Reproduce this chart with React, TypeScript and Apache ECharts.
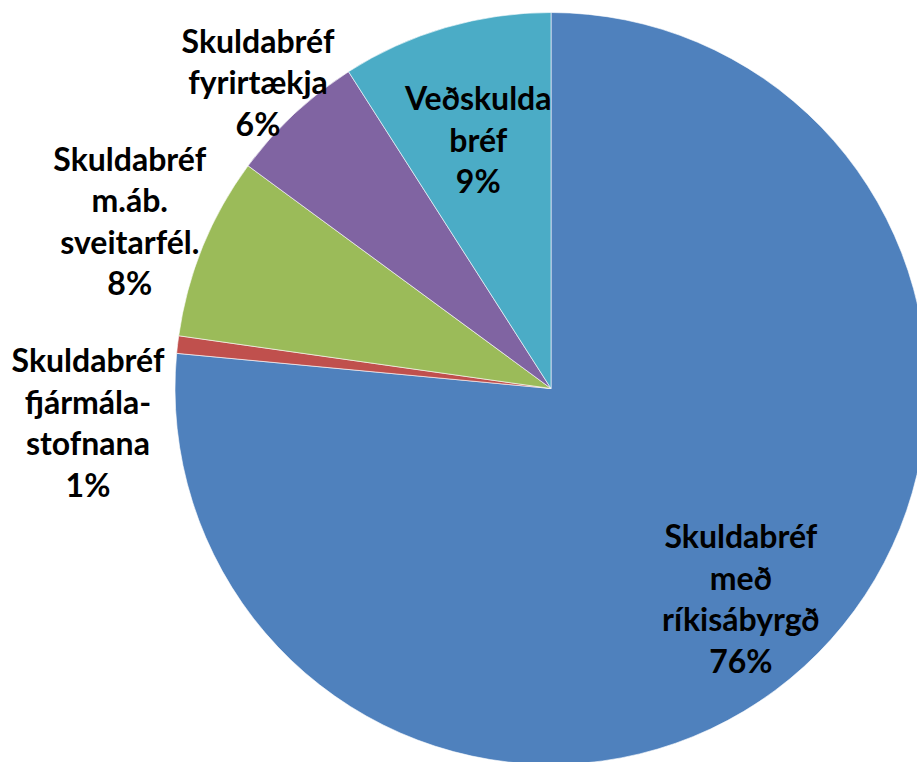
import React, { useEffect, useRef } from "react";
import * as echarts from "echarts";

const categories = [
  "Skuldabréf\nmeð\nríkisábyrgð",
  "Skuldabréf\nfjármála-\nstofnana",
  "Skuldabréf\nm.áb.\nsveitarfél.",
  "Skuldabréf\nfyrirtækja",
  "Veðskulda\nbréf",
];
const values = [76.49, 0.75, 7.85, 5.86, 9.05];
const colors = ["#4F81BD", "#C0504D", "#9BBB59", "#8064A2", "#4BACC6"];

// label placement tuning: [radius factor, extra dx, extra dy]
const labelPlace: [number, number, number][] = [
  [0.75, 0, 1],
  [1.24, 0, 88],
  [1.21, 0, 4],
  [1.14, 0, 6],
  [0.69, 0, 0],
];

const CX = 551;
const CY = 388.5;
const R = 376;

export default function App() {
  const ref = useRef<HTMLDivElement>(null);
  useEffect(() => {
    document.body.style.margin = "0";
    if (!ref.current) return;
    const chart = echarts.init(ref.current, undefined, { renderer: "svg" });
    const total = values.reduce((a, b) => a + b, 0);
    const mids: number[] = [];
    let acc = 0;
    values.forEach((v) => {
      const a0 = (acc / total) * 360;
      acc += v;
      const a1 = (acc / total) * 360;
      mids.push((a0 + a1) / 2);
    });
    chart.setOption({
      animation: false,
      backgroundColor: "#ffffff",
      series: [
        {
          type: "pie",
          center: [CX, CY],
          radius: [0, R],
          startAngle: 90,
          clockwise: true,
          avoidLabelOverlap: false,
          itemStyle: { borderColor: "rgba(255,255,255,0.8)", borderWidth: 0.75 },
          label: {
            show: true,
            position: "inside",
            color: "#000",
            fontFamily: "Lato",
            fontWeight: "bold",
            fontSize: 32,
            lineHeight: 41.5,
            align: "center",
            formatter: (p: any) => `${p.name}\n${Math.round(p.percent)}%`,
          },
          labelLine: { show: false },
          labelLayout: (p: any) => {
            const i = p.dataIndex;
            const [k, dx, dy] = labelPlace[i];
            const ang = (mids[i] * Math.PI) / 180;
            return {
              x: CX + Math.sin(ang) * R * k + dx,
              y: CY - Math.cos(ang) * R * k + dy,
              align: "center",
              verticalAlign: "middle",
            };
          },
          data: categories.map((name, i) => ({
            name,
            value: values[i],
            itemStyle: { color: colors[i] },
          })),
        },
      ],
    });
    return () => chart.dispose();
  }, []);
  return <div ref={ref} style={{ width: 917, height: 762 }} />;
}
